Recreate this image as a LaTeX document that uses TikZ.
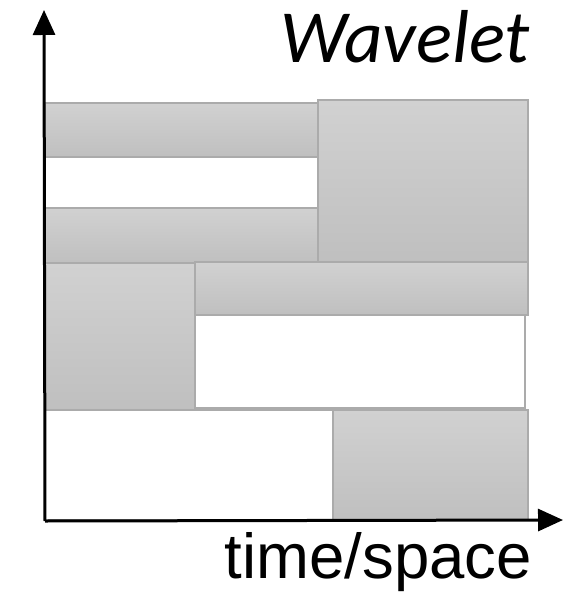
\documentclass[tikz,border=0pt]{standalone}
\usepackage{fontspec}
\setmainfont{Liberation Sans}
\newfontfamily\wavefont{Carlito}
\usetikzlibrary{arrows.meta}
\tikzset{
  band/.style={draw=black!33, line width=1.4pt, top color=black!18, bottom color=black!25},
  gap/.style={draw=black!33, line width=1.4pt, fill=white},
  axis/.style={line width=3pt, -{Triangle[length=25pt,width=22pt]}},
}
\begin{document}
\begin{tikzpicture}[x=1pt,y=-1pt]
\useasboundingbox (0,0) rectangle (566,593);
% frequency bands at the coarse scale
\path[band] (45,103) rectangle (318,157);
\path[gap]  (45,157) rectangle (318,208);
\path[band] (45,208) rectangle (318,263);
\path[band] (318,100) rectangle (528,262);
% middle scale
\path[band] (45,263) rectangle (195,410);
\path[band] (195,262) rectangle (528,315);
\path[gap]  (195,315) rectangle (525,408);
% finest scale
\path[gap]  (45,410) rectangle (333,520);
\path[band] (333,410) rectangle (528,520);
% axes
\coordinate (O) at (45,521);
\coordinate (ytip) at (44,10);
\coordinate (xtip) at (563,520);
\draw[axis] (O) -- (ytip);
\draw[axis] (O) -- (xtip);
% labels
\node[anchor=base east, inner sep=0pt, font=\wavefont\itshape\fontsize{75}{82}\selectfont] (title) at (530,63) {Wavelet};
\node[anchor=base east, inner sep=0pt, font=\fontsize{63.5}{70}\selectfont] (xlabel) at (532,578) {time/space};
\end{tikzpicture}
\end{document}
